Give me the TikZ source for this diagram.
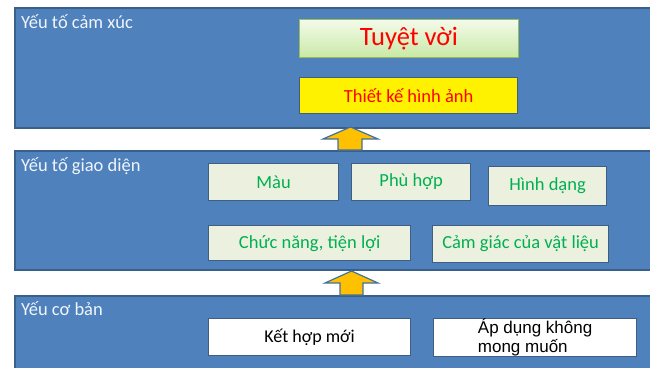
\documentclass[tikz,border=0pt]{standalone}
\usepackage{fontspec}
\setmainfont{Carlito}
\newfontfamily\arialfont{Liberation Sans}
\definecolor{panelfill}{HTML}{4F81BD}
\definecolor{paneldraw}{HTML}{3A5F8B}
\definecolor{boxfill}{HTML}{EBF1DE}
\definecolor{boxdraw}{HTML}{3F5E80}
\definecolor{gtext}{HTML}{00B050}
\definecolor{gold}{HTML}{FFC000}
\definecolor{arrdraw}{HTML}{41719C}
\definecolor{gtop}{HTML}{F4FBEA}
\definecolor{gbot}{HTML}{C9E9A6}
\definecolor{gdraw}{HTML}{9BBB59}
\begin{document}
\begin{tikzpicture}[x=1pt,y=-1pt,
  panel/.style={draw=paneldraw,line width=1.5pt,fill=panelfill,anchor=north west,inner sep=0pt},
  plabel/.style={anchor=base west,text=white!92!panelfill,font=\fontsize{18.5}{20}\selectfont,inner sep=0pt},
  gbox/.style={draw=boxdraw,line width=1.2pt,fill=boxfill,text=gtext,font=\fontsize{18.5}{20}\selectfont,anchor=north west,inner sep=0pt},
  wbox/.style={draw=boxdraw,line width=1.2pt,fill=white,text=black,font=\fontsize{18}{20}\selectfont,anchor=north west,inner sep=0pt},
  uparrow/.style={draw=arrdraw,line width=1.2pt,fill=gold,line join=miter}]
\useasboundingbox (0,0) rectangle (650,367);
% panels
\node[panel,minimum width=640pt,minimum height=120pt] (p1) at (14,7) {};
\node[panel,minimum width=640pt,minimum height=119pt] (p2) at (14,150) {};
\node[panel,minimum width=640pt,minimum height=80pt] (p3) at (14,295) {};
\node[plabel] (l1) at (21,28) {Yếu tố cảm xúc};
\node[plabel] (l2) at (21,171) {Yếu tố giao diện};
\node[plabel] (l3) at (21,315) {Yếu cơ bản};
% top boxes
\node[draw=gdraw,line width=0.8pt,top color=gtop,bottom color=gbot,anchor=north west,inner sep=0pt,
  minimum width=219pt,minimum height=38pt,text=red,font=\fontsize{26.5}{30}\selectfont] (tv) at (299,19) {Tuyệt vời};
\node[draw=boxdraw,line width=1.2pt,fill=yellow,anchor=north west,inner sep=0pt,
  minimum width=218pt,minimum height=36pt,text=red,font=\fontsize{18.5}{20}\selectfont] (tk) at (299,77) {Thiết kế hình ảnh};
% middle boxes
\node[gbox,minimum width=130pt,minimum height=37pt] (mau) at (208,163) {Màu};
\node[gbox,minimum width=119pt,minimum height=37pt] (ph) at (351,163) {Phù hợp};
\node[gbox,minimum width=118pt,minimum height=39pt] (hd) at (488,166) {Hình dạng};
\node[gbox,minimum width=202pt,minimum height=35pt] (cn) at (208,225) {Chức năng, tiện lợi};
\node[gbox,minimum width=176pt,minimum height=37pt] (cg) at (432,225) {Cảm giác của vật liệu};
% bottom boxes
\node[wbox,minimum width=202pt,minimum height=37pt] (kh) at (208,318) {Kết hợp mới};
\node[wbox,minimum width=203pt,minimum height=38pt,align=left,font=\arialfont\fontsize{17}{19.5}\selectfont] (ad) at (433,318) {Áp dụng không\\mong muốn};
% arrows
\draw[uparrow] (338,150) -- (338,139) -- (323,139) -- (350.5,127) -- (378,139) -- (362,139) -- (362,150) -- cycle;
\draw[uparrow] (340,295) -- (340,283) -- (325,283) -- (351.5,271) -- (378,283) -- (363,283) -- (363,295) -- cycle;
\end{tikzpicture}
\end{document}
